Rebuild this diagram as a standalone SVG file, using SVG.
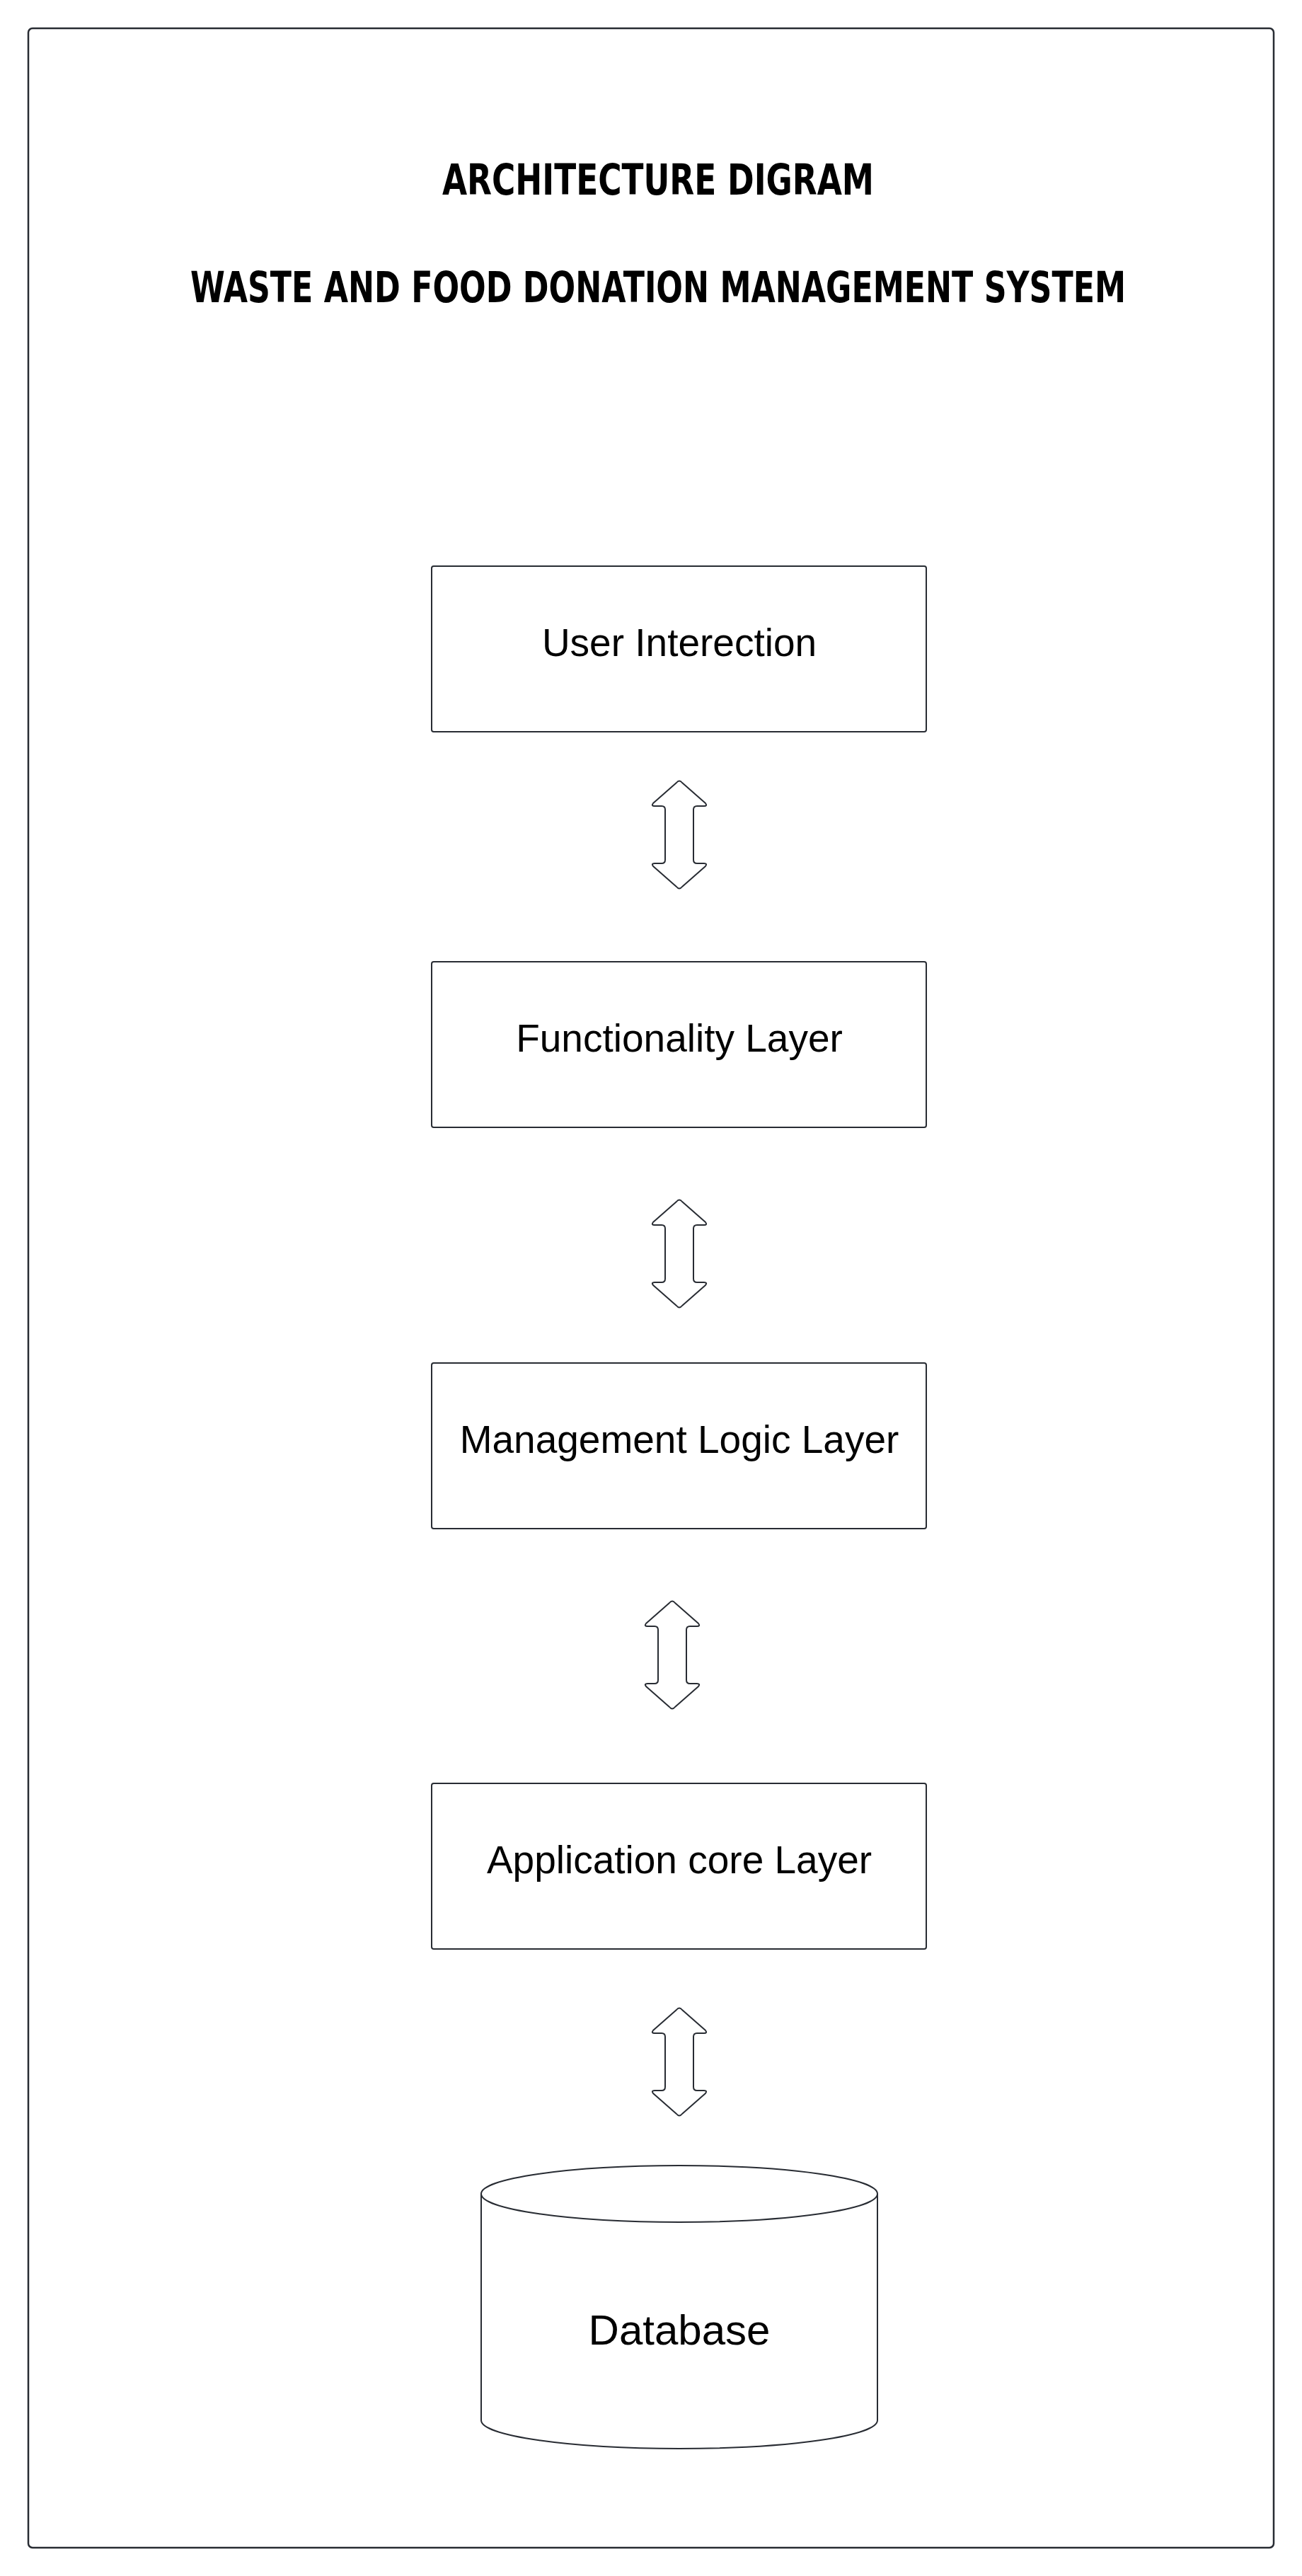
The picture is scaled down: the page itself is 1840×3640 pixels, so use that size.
<svg xmlns="http://www.w3.org/2000/svg" xmlns:xlink="http://www.w3.org/1999/xlink" width="1840" height="3640" viewBox="0 0 1840 3640">
<style>
.frame{fill:#ffffff;stroke:#282c33;stroke-width:2.5}
.box{fill:#ffffff;stroke:#282c33;stroke-width:2}
.arrow{fill:#ffffff;stroke:#282c33;stroke-width:2;stroke-linejoin:round}
.lbl{font-family:"Liberation Sans",Arial,sans-serif;font-size:55px;fill:#000000;text-anchor:middle}
.title{font-family:"DejaVu Sans Condensed","DejaVu Sans",sans-serif;font-weight:bold;font-size:60px;fill:#000000;text-anchor:middle}
</style>
<defs>
<path id="dblArrow" d="M -4 3 Q 0 -2 4 3 L 37 32 Q 40 36 35 36 L 25 36 Q 20 36 20 41 L 20 112 Q 20 117 25 117 L 35 117 Q 40 117 37 121 L 4 150 Q 0 155 -4 150 L -37 121 Q -40 117 -35 117 L -25 117 Q -20 117 -20 112 L -20 41 Q -20 36 -25 36 L -35 36 Q -40 36 -37 32 Z"/>
</defs>
<rect x="0" y="0" width="1840" height="3640" fill="#ffffff"/>
<rect class="frame" x="40" y="40" width="1760" height="3560" rx="6"/>
<g id="title">
<text class="title" x="930" y="275" textLength="610" lengthAdjust="spacingAndGlyphs">ARCHITECTURE DIGRAM</text>
<text class="title" x="930" y="427" textLength="1322" lengthAdjust="spacingAndGlyphs">WASTE AND FOOD DONATION MANAGEMENT SYSTEM</text>
</g>
<g id="user-interaction">
<rect class="box" x="610" y="800" width="699" height="234" rx="3"/>
<text class="lbl" x="960" y="927">User Interection</text>
</g>
<g id="functionality-layer">
<rect class="box" x="610" y="1359" width="699" height="234" rx="3"/>
<text class="lbl" x="960" y="1486">Functionality Layer</text>
</g>
<g id="management-logic-layer">
<rect class="box" x="610" y="1926" width="699" height="234" rx="3"/>
<text class="lbl" x="960" y="2053">Management Logic Layer</text>
</g>
<g id="application-core-layer">
<rect class="box" x="610" y="2520" width="699" height="234" rx="3"/>
<text class="lbl" x="960" y="2647">Application core Layer</text>
</g>
<g id="database">
<path class="box" d="M 680 3100 L 680 3420 A 280 40 0 0 0 1240 3420 L 1240 3100 A 280 40 0 0 0 680 3100 Z"/>
<path class="box" fill="none" d="M 680 3100 A 280 40 0 0 0 1240 3100"/>
<text class="lbl" x="960" y="3313" style="font-size:60px">Database</text>
</g>
<g id="connectors">
<use xlink:href="#dblArrow" class="arrow" x="960" y="1103"/>
<use xlink:href="#dblArrow" class="arrow" x="960" y="1695"/>
<use xlink:href="#dblArrow" class="arrow" x="950" y="2262"/>
<use xlink:href="#dblArrow" class="arrow" x="960" y="2837"/>
</g>
</svg>
